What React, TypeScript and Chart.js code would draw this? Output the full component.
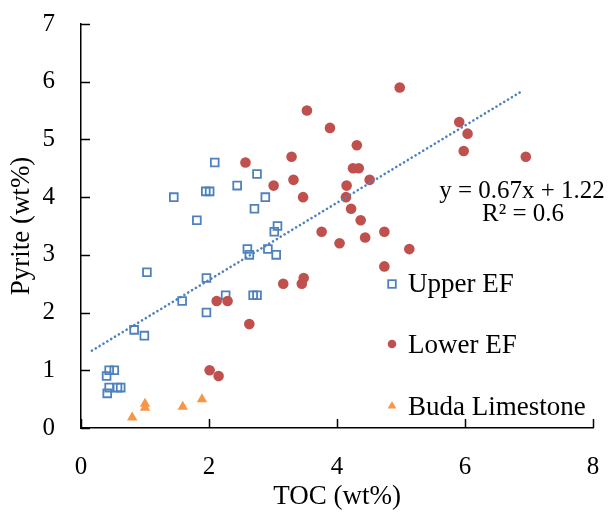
import React, { useEffect, useRef } from 'react';
import { Chart, registerables } from 'chart.js';

Chart.register(...registerables);

// ---- data ----
const UPPER_EF_X = [2.09, 2.75, 2.44, 1.45, 1.95, 2.01, 2.88, 2.71, 1.81, 3.07, 3.02, 2.6, 2.63, 2.92, 3.05, 1.03, 1.96, 2.26, 2.69, 2.75, 1.58, 1.96, 0.83, 0.99, 0.44, 0.52, 0.4, 0.41, 0.44, 0.57, 0.62];
const UPPER_EF_Y = [4.6, 4.4, 4.2, 4.0, 4.1, 4.1, 4.0, 3.8, 3.6, 3.5, 3.4, 3.1, 3.0, 3.1, 3.0, 2.7, 2.6, 2.3, 2.3, 2.3, 2.2, 2.0, 1.7, 1.6, 1.0, 1.0, 0.9, 0.6, 0.7, 0.7, 0.7];

const LOWER_EF_X = [4.98, 3.53, 3.89, 5.91, 6.04, 5.98, 6.95, 4.31, 2.57, 3.29, 4.25, 4.34, 3.32, 4.51, 3.01, 4.15, 3.47, 4.14, 4.22, 4.37, 3.76, 4.74, 4.44, 4.04, 5.13, 4.74, 3.48, 3.45, 3.16, 2.12, 2.29, 2.63, 2.01, 2.15];
const LOWER_EF_Y = [5.9, 5.5, 5.2, 5.3, 5.1, 4.8, 4.7, 4.9, 4.6, 4.7, 4.5, 4.5, 4.3, 4.3, 4.2, 4.2, 4.0, 4.0, 3.8, 3.6, 3.4, 3.4, 3.3, 3.2, 3.1, 2.8, 2.6, 2.5, 2.5, 2.2, 2.2, 1.8, 1.0, 0.9];

const BUDA_X = [0.8, 1.0, 1.0, 1.59, 1.89];
const BUDA_Y = [0.18, 0.42, 0.35, 0.37, 0.5];

const TREND_X = [0.17, 6.91];
const TREND_Y = [1.34, 5.85];

const SERIES_NAMES = ['Upper EF', 'Lower EF', 'Buda Limestone'];
const EQUATION_LINES = ['y = 0.67x + 1.22', 'R\u00B2 = 0.6'];
const X_TITLE = 'TOC (wt%)';
const Y_TITLE = 'Pyrite (wt%)';

// ---- styles ----
const BLUE = '#4F81BD';
const RED = '#C0504D';
const ORANGE = '#F79646';
const FONT = '"Liberation Serif", "Times New Roman", serif';

const zip = (xs: number[], ys: number[]) => xs.map((x, i) => ({ x, y: ys[i] }));

const insideTicks = {
  id: 'insideTicks',
  beforeDatasetsDraw(chart: any) {
    const { ctx, chartArea } = chart;
    const xs = chart.scales.x;
    const ys = chart.scales.y;
    ctx.save();
    ctx.strokeStyle = '#000';
    ctx.lineWidth = 1.5;
    xs.ticks.forEach((t: any) => {
      const px = Math.round(xs.getPixelForValue(t.value)) + 0.5;
      ctx.beginPath();
      ctx.moveTo(px, chartArea.bottom);
      ctx.lineTo(px, chartArea.bottom - 9);
      ctx.stroke();
    });
    ys.ticks.forEach((t: any) => {
      const py = Math.round(ys.getPixelForValue(t.value)) + 0.5;
      ctx.beginPath();
      ctx.moveTo(chartArea.left, py);
      ctx.lineTo(chartArea.left + 9, py);
      ctx.stroke();
    });
    ctx.restore();
  },
};

const annotations = {
  id: 'annotations',
  afterDraw(chart: any) {
    const { ctx } = chart;
    ctx.save();
    // trendline equation
    ctx.fillStyle = '#000';
    ctx.font = `25px ${FONT}`;
    ctx.textAlign = 'center';
    ctx.textBaseline = 'alphabetic';
    ctx.fillText(EQUATION_LINES[0], 522, 198, 167);
    ctx.fillText(EQUATION_LINES[1], 523, 221, 84);

    // legend
    const mx = 392;
    const tx = 408;
    const rows = [284, 344, 406];
    const baselines = [291.5, 352.5, 414.5];
    ctx.font = `27px ${FONT}`;
    ctx.textAlign = 'left';
    SERIES_NAMES.forEach((name, i) => {
      ctx.fillStyle = '#000';
      ctx.fillText(name, tx, baselines[i]);
    });
    ctx.strokeStyle = BLUE;
    ctx.lineWidth = 1.8;
    ctx.strokeRect(mx - 3.8, rows[0] - 3.8, 7.6, 7.6);
    ctx.fillStyle = RED;
    ctx.beginPath();
    ctx.arc(mx, rows[1], 4.3, 0, Math.PI * 2);
    ctx.fill();
    ctx.fillStyle = ORANGE;
    const r = 5;
    ctx.beginPath();
    ctx.moveTo(mx, rows[2] - r);
    ctx.lineTo(mx + r * 0.866, rows[2] + r * 0.5);
    ctx.lineTo(mx - r * 0.866, rows[2] + r * 0.5);
    ctx.closePath();
    ctx.fill();
    ctx.restore();
  },
};

export default function App() {
  const ref = useRef<HTMLCanvasElement | null>(null);

  useEffect(() => {
    if (!ref.current) return;
    const chart = new Chart(ref.current, {
      type: 'scatter',
      data: {
        datasets: [
          {
            label: 'Trend',
            type: 'line',
            data: zip(TREND_X, TREND_Y),
            borderColor: BLUE,
            borderWidth: 2.6,
            borderDash: [0.1, 4.4],
            borderCapStyle: 'round',
            pointRadius: 0,
            fill: false,
            order: 0,
          } as any,
          {
            label: SERIES_NAMES[2],
            data: zip(BUDA_X, BUDA_Y),
            pointStyle: 'triangle',
            pointRadius: 6,
            backgroundColor: ORANGE,
            borderColor: ORANGE,
            borderWidth: 0,
            order: 1,
          },
          {
            label: SERIES_NAMES[1],
            data: zip(LOWER_EF_X, LOWER_EF_Y),
            pointStyle: 'circle',
            pointRadius: 5.3,
            backgroundColor: RED,
            borderColor: RED,
            borderWidth: 0,
            order: 2,
          },
          {
            label: SERIES_NAMES[0],
            data: zip(UPPER_EF_X, UPPER_EF_Y),
            pointStyle: 'rect',
            pointRadius: 5.5,
            backgroundColor: 'rgba(0,0,0,0)',
            borderColor: BLUE,
            borderWidth: 1.8,
            order: 3,
          },
        ],
      },
      options: {
        animation: false,
        responsive: false,
        devicePixelRatio: 1,
        layout: { padding: { top: 24, right: 15, left: 0, bottom: 0 } },
        plugins: { legend: { display: false }, tooltip: { enabled: false } },
        scales: {
          x: {
            type: 'linear',
            min: 0,
            max: 8,
            ticks: { stepSize: 2, color: '#000', padding: 0, font: { family: FONT, size: 25 } },
            grid: { display: false, drawTicks: true, tickLength: 24 },
            border: { display: true, color: '#000', width: 1.5 },
            title: { display: true, text: X_TITLE, color: '#000', font: { family: FONT, size: 27 }, padding: { top: 0, bottom: 2 } },
            afterFit: (s: any) => { s.height = 87; },
          },
          y: {
            type: 'linear',
            min: 0,
            max: 7,
            ticks: { stepSize: 1, color: '#000', padding: 0, font: { family: FONT, size: 25 } },
            grid: { display: false, drawTicks: true, tickLength: 26 },
            border: { display: true, color: '#000', width: 1.5 },
            title: { display: true, text: Y_TITLE, color: '#000', font: { family: FONT, size: 27 }, padding: { top: 6, bottom: 0 } },
            afterFit: (s: any) => { s.width = 81; },
          },
        },
      },
      plugins: [insideTicks, annotations],
    });
    return () => chart.destroy();
  }, []);

  return (
    <div style={{ position: 'absolute', left: 0, top: 0, width: 608, height: 515, background: '#fff' }}>
      <canvas ref={ref} width={608} height={515} />
    </div>
  );
}
